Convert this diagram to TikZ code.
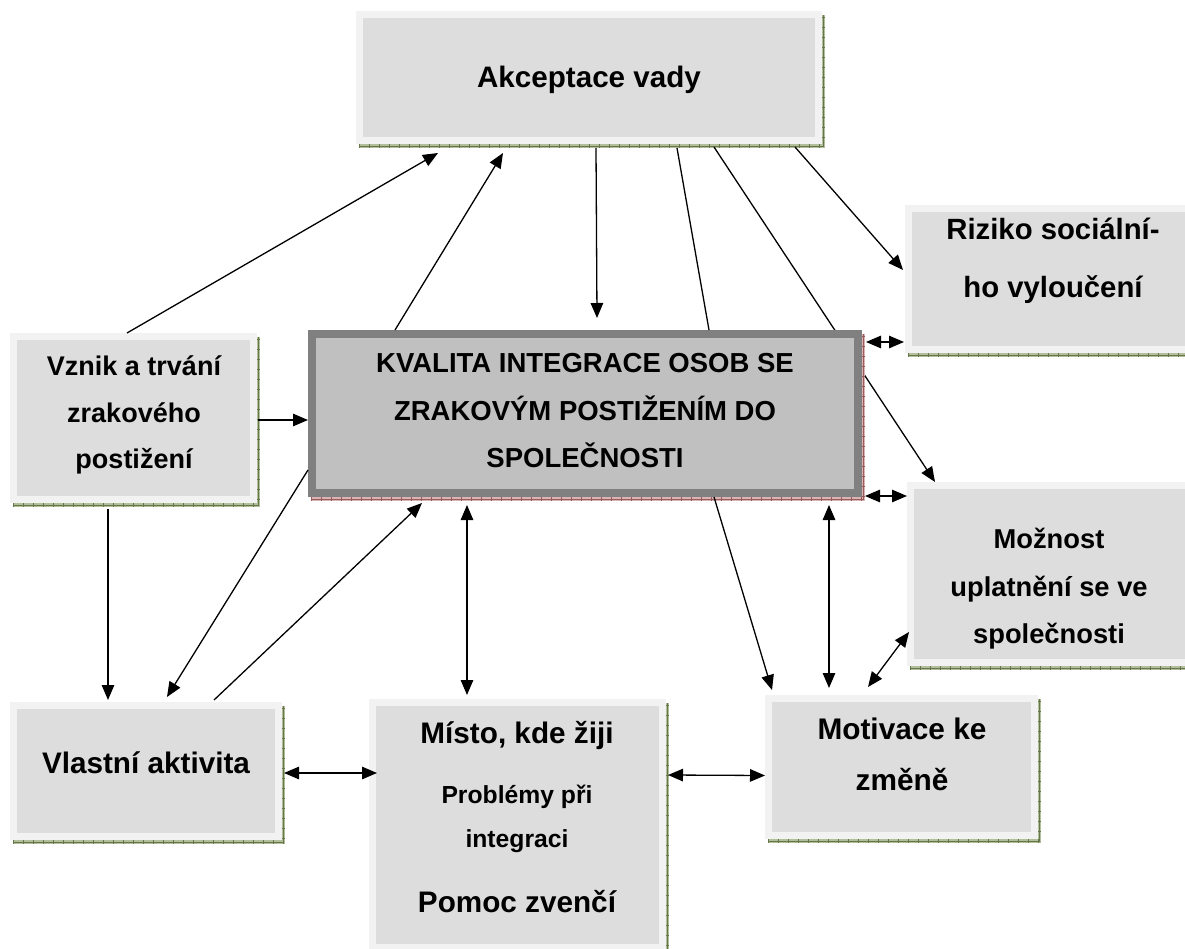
\documentclass[tikz,border=0pt]{standalone}
\usepackage{fontspec}
\setmainfont{Liberation Sans}
\usetikzlibrary{arrows.meta,calc}
\definecolor{boxfill}{HTML}{DDDDDD}
\definecolor{boxrim}{HTML}{F2F2F2}
\definecolor{mainfill}{HTML}{C0C0C0}
\definecolor{mainrim}{HTML}{808080}
\definecolor{shgreen}{HTML}{B3BF9C}
\definecolor{shgreendk}{HTML}{66784A}
\definecolor{shred}{HTML}{D8B4B4}
\definecolor{shreddk}{HTML}{9A5A5A}

\newcommand{\shadowband}[6]{% x1 y1 x2 y2 light dark
  \fill[#5] (#1+3,#2+4) rectangle (#3+3,#4+4);
  \draw[#6, line width=0.5pt] (#1+3,#4+2) -- (#3+1.5,#4+2) -- (#3+1.5,#2+4);
  \draw[#6, line width=4pt, dash pattern=on 0.8pt off 9.2pt] (#1+3,#4+2) -- (#3+3,#4+2);
  \draw[#6, line width=3pt, dash pattern=on 0.8pt off 9.2pt] (#3+1.5,#2+6) -- (#3+1.5,#4+2);
}
\newcommand{\gbox}[5]{% name x1 y1 x2 y2
  \shadowband{#2}{#3}{#4}{#5}{shgreen}{shgreendk}
  \node[graybox, minimum width={#4-#2-7}, minimum height={#5-#3-7}] (#1) at ({(#2+#4)/2},{(#3+#5)/2}) {};
}

\begin{document}
\begin{tikzpicture}[x=1pt,y=-1pt,
  graybox/.style={draw=boxrim, fill=boxfill, line width=7pt, inner sep=0pt, rectangle},
  mainbox/.style={draw=mainrim, fill=mainfill, line width=8pt, inner sep=0pt, rectangle},
  lbl/.style={anchor=base, inner sep=0pt, font=\bfseries\fontsize{#1}{#1}\selectfont},
  conn/.style={line width=1.3pt, -{Triangle[length=15pt,width=12.5pt]}},
  dconn/.style={line width=1.3pt, {Triangle[length=15pt,width=12.5pt]}-{Triangle[length=15pt,width=12.5pt]}},
  plain/.style={line width=1.3pt}]
\useasboundingbox (0,0) rectangle (1185,949);
\clip (0,0) rectangle (1185,949);
\fill[white] (0,0) rectangle (1185,949);

% boxes needed before the hidden line
\gbox{akc}{356}{11}{822}{144}
\gbox{moz}{907}{482}{1195}{666}

% long line from Akceptace to Moznost (passes behind the main box)
\draw[conn] ([xshift=125pt,yshift=-3pt]akc.south) -- ([xshift=28pt]moz.north west);

\gbox{riz}{905}{205}{1195}{353}
\gbox{vznik}{10}{333}{257}{503}
\gbox{vlast}{10}{702}{282}{840}
\gbox{misto}{369}{699}{666}{951}
\gbox{motiv}{765}{695}{1038}{839}

% main box
\shadowband{308}{330}{862}{497}{shred}{shreddk}
\node[mainbox, minimum width=546pt, minimum height=159pt] (kval) at (585,413.5) {};

% texts
\node[lbl=29.6] (takc) at (589,88) {Akceptace vady};
\node[lbl=27.5] (tk1) at (585,372) {KVALITA INTEGRACE OSOB SE};
\node[lbl=27.5] (tk2) at (585,420) {ZRAKOVÝM POSTIŽENÍM DO};
\node[lbl=27.5] (tk3) at (585,467) {SPOLEČNOSTI};
\node[lbl=27] (tv1) at (134,375) {Vznik a trvání};
\node[lbl=27] (tv2) at (134,422) {zrakového};
\node[lbl=27] (tv3) at (134,468) {postižení};
\node[lbl=29.3] (tr1) at (1053,240) {Riziko sociální-};
\node[lbl=29.3] (tr2) at (1053,298) {ho vyloučení};
\node[lbl=27.3] (tm1) at (1049,548) {Možnost};
\node[lbl=27.3] (tm2) at (1049,596) {uplatnění se ve};
\node[lbl=27.3] (tm3) at (1049,643) {společnosti};
\node[lbl=29.7] (tvl) at (146,773) {Vlastní aktivita};
\node[lbl=29.7] (tmi1) at (517,743) {Místo, kde žiji};
\node[lbl=24.7] (tmi2) at (517,803) {Problémy při};
\node[lbl=24.7] (tmi3) at (517,847) {integraci};
\node[lbl=29.7] (tmi4) at (517,912) {Pomoc zvenčí};
\node[lbl=29.8] (tmo1) at (902,739) {Motivace ke};
\node[lbl=29.8] (tmo2) at (902,790) {změně};

% connectors
\draw[conn] ([xshift=-6.5pt]vznik.north) -- ([xshift=-151pt,yshift=-9pt]akc.south);
\draw[conn] ([xshift=-190pt]kval.north) -- ([xshift=-86pt,yshift=-9pt]akc.south);
\draw[conn] ([xshift=7pt,yshift=-4pt]akc.south) -- ([xshift=12pt,yshift=12pt]kval.north);
\draw[plain] ([xshift=88pt,yshift=-4pt]akc.south) -- ([xshift=124pt]kval.north);
\draw[conn] ([xshift=206pt,yshift=-3pt]akc.south) -- ([xshift=-2pt,yshift=9pt]riz.west);
\draw[dconn] ([xshift=4pt,yshift=-12pt]kval.north east) -- ([xshift=-1pt,yshift=11pt]riz.south west);
\draw[dconn] ([xshift=3pt,yshift=1pt]kval.south east) -- ([yshift=-14pt]moz.north west);
\draw[conn] ([xshift=1pt,yshift=-2pt]vznik.east) -- ([yshift=-6.5pt]kval.west);
\draw[conn] ([xshift=-25.5pt,yshift=-6pt]vznik.south) -- ([xshift=-38pt,yshift=2pt]vlast.north);
\draw[conn] ([yshift=-56.5pt]kval.west) -- ([xshift=21pt,yshift=5pt]vlast.north);
\draw[conn] ([xshift=68pt,yshift=2pt]vlast.north) -- ([xshift=-163pt,yshift=-6pt]kval.south);
\draw[dconn] ([xshift=-118pt,yshift=-8pt]kval.south) -- ([xshift=-50.5pt,yshift=4pt]misto.north);
\draw[conn] ([xshift=129pt]kval.south) -- ([xshift=-129.5pt,yshift=5pt]motiv.north);
\draw[dconn] ([xshift=244pt,yshift=-8pt]kval.south) -- ([xshift=-72.5pt,yshift=7pt]motiv.north);
\draw[dconn] ([xshift=2pt,yshift=-58pt]moz.west) -- ([xshift=-33.5pt,yshift=8pt]motiv.north);
\draw[dconn] ([xshift=2pt,yshift=-2pt]vlast.east) -- ([xshift=8pt,yshift=52pt]misto.west);
\draw[dconn] ([xshift=2pt,yshift=50pt]misto.east) -- ([yshift=-8.5pt]motiv.west);
\end{tikzpicture}
\end{document}
